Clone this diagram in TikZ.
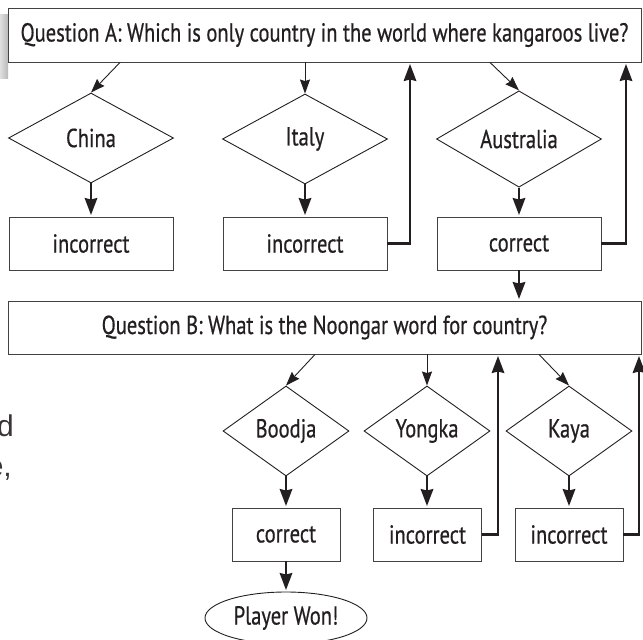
\documentclass[tikz,border=0pt]{standalone}
\usepackage{fontspec}
\setmainfont{PT Sans}[FakeStretch=0.79,FakeBold=0.6]
\newfontfamily\bgfont{Liberation Sans}
\usetikzlibrary{shapes.geometric,arrows.meta,calc}
\definecolor{ink}{HTML}{231F20}
\begin{document}
\begin{tikzpicture}[x=1pt,y=-1pt,
  every node/.style={font=\fontsize{26}{28}\selectfont, text=ink},
  qbox/.style={draw=ink!85, line width=0.9pt, rectangle, inner sep=0pt, minimum width=633pt, minimum height=54pt},
  abox/.style={draw=ink!85, line width=0.9pt, rectangle, inner sep=0pt, minimum height=53pt},
  dia/.style={draw=ink, line width=0.9pt, diamond, inner sep=0pt, minimum height=90pt},
  oval/.style={draw=ink, line width=0.9pt, ellipse, inner sep=0pt, minimum width=162pt, minimum height=52pt},
  thin/.style={draw=ink, line width=0.9pt, -{Stealth[length=14pt,width=10pt,inset=1.5pt]}},
  thick/.style={draw=ink, line width=2.4pt, -{Stealth[length=17pt,width=12.5pt,inset=1.5pt]}, shorten >=1.5pt},
  fb/.style={draw=ink, line width=2.4pt, -{Stealth[length=17pt,width=12.5pt,inset=1.5pt]}, shorten >=1.5pt}
]
\useasboundingbox (0,0) rectangle (643,640);
% background fragments
\shade[left color=gray!25, right color=gray!55] (0,14) rectangle (8,78);
\node[font=\bgfont\fontsize{30}{30}\selectfont, text=ink!90, anchor=base east, inner sep=0pt] (fragd) at (14,436) {d};
\node[font=\bgfont\fontsize{30}{30}\selectfont, text=ink!90, anchor=base east, inner sep=0pt] (frage) at (12,476) {e,};

% question A
\node[qbox] (qa) at (324.5,35) {Question A: Which is only country in the world where kangaroos live?};
\node[dia, minimum width=165pt] (ch) at (91,138) {China};
\node[dia, minimum width=165pt] (it) at (305,139) {Italy};
\node[dia, minimum width=165pt] (au) at (519,139) {Australia};
\node[abox, minimum width=164pt] (chb) at (91,243.5) {incorrect};
\node[abox, minimum width=164pt] (itb) at (305,243.5) {incorrect};
\node[abox, minimum width=164pt] (aub) at (519,243.5) {correct};

% question B
\node[qbox, minimum height=53pt] (qb) at (324.5,327.5) {Question B: What is the Noongar word for country?};
\node[dia, minimum width=126pt] (bo) at (286,431) {Boodja};
\node[dia, minimum width=126pt] (yo) at (427,431) {Yongka};
\node[dia, minimum width=126pt] (ka) at (569,431) {Kaya};
\node[abox, minimum width=108pt] (bob) at (286,534.5) {correct};
\node[abox, minimum width=108pt] (yob) at (427.5,534.5) {incorrect};
\node[abox, minimum width=108pt] (kab) at (569,534.5) {incorrect};
\node[oval] (won) at (286,618) {Player Won!};

% connectors A
\draw[thin] (120,0 |- qa.south) -- (ch.north);
\draw[thin] (it.north |- qa.south) -- (it.north);
\draw[thin] (490,0 |- qa.south) -- (au.north);
\draw[thick] (ch.south) -- (chb.north);
\draw[thick] (it.south) -- (itb.north);
\draw[thick] (au.south) -- (aub.north);
\draw[fb] (itb.east) -| (410,0 |- qa.south);
\draw[fb] (aub.east) -| (626,0 |- qa.south);
\draw[thick] (aub.south) -- (aub.south |- qb.north);

% connectors B
\draw[thin] (315,0 |- qb.south) -- (bo.north);
\draw[thin] (yo.north |- qb.south) -- (yo.north);
\draw[thin] (539,0 |- qb.south) -- (ka.north);
\draw[thick] (bo.south) -- (bob.north);
\draw[thick] (yo.south) -- (yo.south |- yob.north);
\draw[thick] (ka.south) -- (kab.north);
\draw[fb] (yob.east) -| (498,0 |- qb.south);
\draw[fb] (kab.east) -| (639,0 |- qb.south);
\draw[thick] (bob.south) -- (won.north);
\end{tikzpicture}
\end{document}
